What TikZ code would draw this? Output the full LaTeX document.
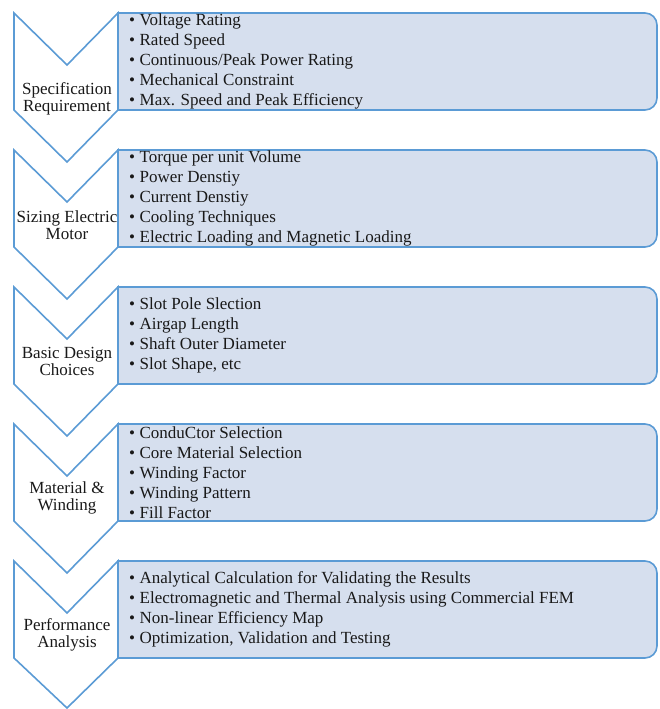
\documentclass[tikz,border=0pt]{standalone}
\usepackage{fontspec}
\setmainfont{Liberation Serif}
\usepackage{tikz}

\definecolor{stepblue}{RGB}{91,155,213}
\definecolor{stepfill}{RGB}{214,223,238}

\tikzset{
  chevron/.style={draw=stepblue, line width=1.6pt, fill=white, line join=miter},
  listbox/.style={draw=stepblue, line width=1.6pt, fill=stepfill},
  steplabel/.style={align=center, text=black!90, font=\fontsize{17}{17}\selectfont},
  steplist/.style={align=left, anchor=west, text=black!90, inner sep=0pt,
    font=\fontsize{17}{20}\selectfont}
}

\newcommand{\li}{\textbullet\hspace{4.5pt}}

\begin{document}
\begin{tikzpicture}[x=1pt, y=-1pt]

 \useasboundingbox (0,0) rectangle (660,709);

 % boxes
 \draw[listbox] (118,13) -- (645,13) arc(-90:0:12) -- (657,98) arc(0:90:12) -- (118,110) -- cycle;
 \draw[listbox] (118,150) -- (645,150) arc(-90:0:12) -- (657,235) arc(0:90:12) -- (118,247) -- cycle;
 \draw[listbox] (118,287) -- (645,287) arc(-90:0:12) -- (657,372) arc(0:90:12) -- (118,384) -- cycle;
 \draw[listbox] (118,424) -- (645,424) arc(-90:0:12) -- (657,509) arc(0:90:12) -- (118,521) -- cycle;
 \draw[listbox] (118,561) -- (645,561) arc(-90:0:12) -- (657,646) arc(0:90:12) -- (118,658) -- cycle;

 % chevrons
 \draw[chevron] (14,13) -- (67,65) -- (118,13) -- (118,110) -- (67,162) -- (14,110) -- cycle;
 \draw[chevron] (14,150) -- (67,202) -- (118,150) -- (118,247) -- (67,299) -- (14,247) -- cycle;
 \draw[chevron] (14,287) -- (67,339) -- (118,287) -- (118,384) -- (67,436) -- (14,384) -- cycle;
 \draw[chevron] (14,424) -- (67,476) -- (118,424) -- (118,521) -- (67,573) -- (14,521) -- cycle;
 \draw[chevron] (14,561) -- (67,613) -- (118,561) -- (118,658) -- (67,708) -- (14,658) -- cycle;

 \node[steplabel] (spec) at (67,99) {Specification\\Requirement};
 \node[steplabel] (sizing) at (67,225) {Sizing Electric\\Motor};
 \node[steplabel] (basic) at (67,361) {Basic Design\\Choices};
 \node[steplabel] (material) at (67,498) {Material \&\\Winding};
 \node[steplabel] (perf) at (67,635) {Performance\\Analysis};

 \node[steplist] (speclist) at (129,61.5) {\li Voltage Rating\\\li Rated Speed\\
   \li Continuous/Peak Power Rating\\\li Mechanical Constraint\\
   \li Max. Speed and Peak Efficiency};
 \node[steplist] (sizinglist) at (129,198.5) {\li Torque per unit Volume\\\li Power Denstiy\\
   \li Current Denstiy\\\li Cooling Techniques\\
   \li Electric Loading and Magnetic Loading};
 \node[steplist] (basiclist) at (129,335.5) {\li Slot Pole Slection\\\li Airgap Length\\
   \li Shaft Outer Diameter\\\li Slot Shape, etc};
 \node[steplist] (materiallist) at (129,472.5) {\li ConduCtor Selection\\\li Core Material Selection\\
   \li Winding Factor\\\li Winding Pattern\\\li Fill Factor};
 \node[steplist] (perflist) at (129,609.5) {\li Analytical Calculation for Validating the Results\\
   \li Electromagnetic and Thermal Analysis using Commercial FEM\\
   \li Non-linear Efficiency Map\\\li Optimization, Validation and Testing};

\end{tikzpicture}
\end{document}
